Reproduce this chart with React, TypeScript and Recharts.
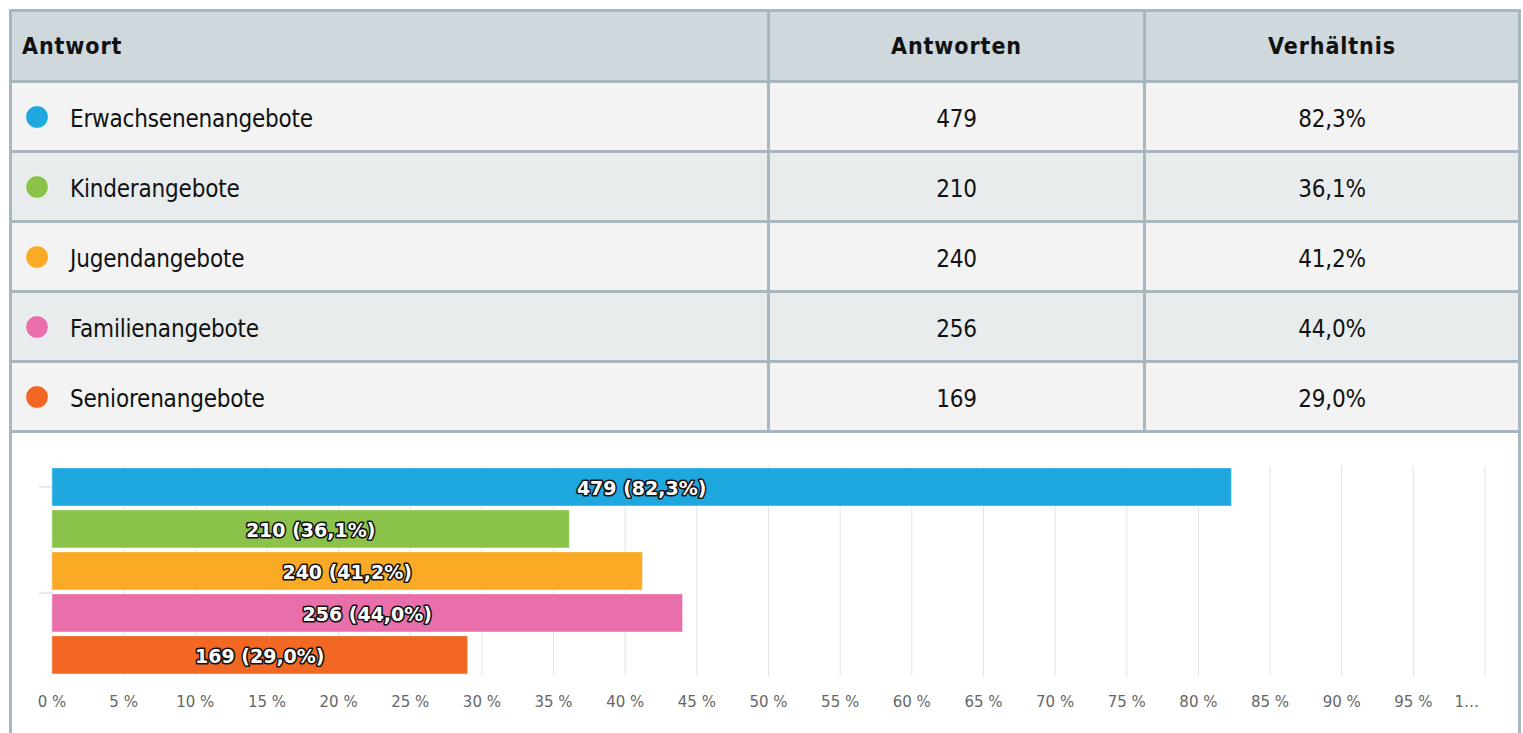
import React from 'react';
import { BarChart, Bar, XAxis, YAxis, CartesianGrid, LabelList, Cell } from 'recharts';

const categories = ['Erwachsenenangebote', 'Kinderangebote', 'Jugendangebote', 'Familienangebote', 'Seniorenangebote'];
const counts = [479, 210, 240, 256, 169];
const percents = [82.3, 36.1, 41.2, 44.0, 29.0];
const colors = ['#1fa8e0', '#8bc34a', '#fbaa25', '#e86faa', '#f26724'];
const xTicks = [0, 5, 10, 15, 20, 25, 30, 35, 40, 45, 50, 55, 60, 65, 70, 75, 80, 85, 90, 95, 100];
const headers = ['Antwort', 'Antworten', 'Verhältnis'];

const data = categories.map((name, i) => ({ name, count: counts[i], pct: percents[i] }));
const fmt = (v: number) => v.toFixed(1).replace('.', ',');

const tableFont = "'Liberation Sans Narrow', 'DejaVu Sans Condensed', 'Roboto', sans-serif";
const chartFont = "'DejaVu Sans', Verdana, sans-serif";
const borderColor = '#a9b6bd';

const renderLabel = (props: any) => {
  const { x, y, width, height, index } = props;
  return (
    <text
      x={x + width / 2}
      y={y + height / 2 + 1}
      textAnchor="middle"
      dominantBaseline="central"
      fill="#ffffff"
      stroke="#111111"
      strokeWidth={3.2}
      strokeLinejoin="round"
      paintOrder="stroke"
      fontFamily={chartFont}
      fontWeight="bold"
      fontSize={19}
    >
      {`${counts[index]} (${fmt(percents[index])}%)`}
    </text>
  );
};

const XTick = (props: any) => {
  const { x, y, payload } = props;
  const last = payload.value === 100;
  return (
    <text
      x={last ? x - 6 : x}
      y={y}
      dy="0.71em"
      textAnchor={last ? 'end' : 'middle'}
      fill="#666666"
      fontFamily={chartFont}
      fontSize={15}
    >
      {last ? '1…' : `${payload.value} %`}
    </text>
  );
};

const YTick = (props: any) => {
  const { x, y, index } = props;
  if (index === 0) return <line x1={x} x2={x + 13} y1={y} y2={y} stroke="#ccd6eb" strokeWidth={1} />;
  if (index === 3) return <line x1={x} x2={x + 13} y1={y - 20} y2={y - 20} stroke="#ccd6eb" strokeWidth={1} />;
  return <g />;
};

const rowBg = ['#f3f3f3', '#e9eced'];

export default function App() {
  const cell = (content: React.ReactNode, col: number, extra: React.CSSProperties = {}) => (
    <div
      style={{
        boxSizing: 'border-box',
        borderRight: col < 2 ? `3px solid ${borderColor}` : 'none',
        display: 'flex',
        alignItems: 'center',
        justifyContent: col === 0 ? 'flex-start' : 'center',
        height: '100%',
        ...extra,
      }}
    >
      {content}
    </div>
  );

  return (
    <div
      style={{
        position: 'absolute',
        left: 9,
        top: 9,
        width: 1512,
        boxSizing: 'border-box',
        border: `3px solid ${borderColor}`,
        background: '#ffffff',
        fontFamily: tableFont,
        color: '#111111',
      }}
    >
      <div
        style={{
          display: 'grid',
          gridTemplateColumns: '758px 376px 372px',
          height: 71,
          boxSizing: 'border-box',
          borderBottom: `3px solid ${borderColor}`,
          background: '#cfd8dc',
          fontWeight: 'bold',
          fontSize: 23,
          letterSpacing: '0.9px',
        }}
      >
        {headers.map((h, i) => (
          <React.Fragment key={h}>{cell(h, i, i === 0 ? { paddingLeft: 10 } : {})}</React.Fragment>
        ))}
      </div>
      {categories.map((c, i) => (
        <div
          key={c}
          style={{
            display: 'grid',
            gridTemplateColumns: '758px 376px 372px',
            height: 70,
            boxSizing: 'border-box',
            borderBottom: `3px solid ${borderColor}`,
            background: rowBg[i % 2],
            fontSize: 24,
            letterSpacing: '-0.2px',
          }}
        >
          {cell(
            <>
              <span
                style={{
                  display: 'inline-block',
                  width: 22,
                  height: 22,
                  borderRadius: '50%',
                  background: colors[i],
                  border: '1px solid #ffffff',
                  marginRight: 21,
                  flexShrink: 0,
                }}
              />
              <span style={{ paddingTop: 5 }}>{c}</span>
            </>,
            0,
            { paddingLeft: 13 }
          )}
          {cell(<span style={{ paddingTop: 5 }}>{String(counts[i])}</span>, 1)}
          {cell(<span style={{ paddingTop: 5 }}>{`${fmt(percents[i])}%`}</span>, 2)}
        </div>
      ))}
      <BarChart
        width={1506}
        height={300}
        data={data}
        layout="vertical"
        margin={{ top: 33, right: 33, bottom: 27, left: 0 }}
        barCategoryGap="4.5%"
      >
        <CartesianGrid horizontal={false} vertical={true} stroke="#e3e3e3" strokeWidth={1} />
        <XAxis
          type="number"
          domain={[0, 100]}
          ticks={xTicks}
          interval={0}
          axisLine={false}
          tickLine={false}
          tickMargin={14}
          height={30}
          tick={<XTick />}
        />
        <YAxis
          type="category"
          dataKey="name"
          width={40}
          axisLine={false}
          tickLine={false}
          tickSize={13}
          tickMargin={0}
          tick={<YTick />}
        />
        <Bar dataKey="pct" isAnimationActive={false} stroke="#ffffff" strokeOpacity={0.35} strokeWidth={1}>
          {data.map((d, i) => (
            <Cell key={d.name} fill={colors[i]} />
          ))}
          <LabelList dataKey="pct" content={renderLabel} />
        </Bar>
      </BarChart>
    </div>
  );
}
